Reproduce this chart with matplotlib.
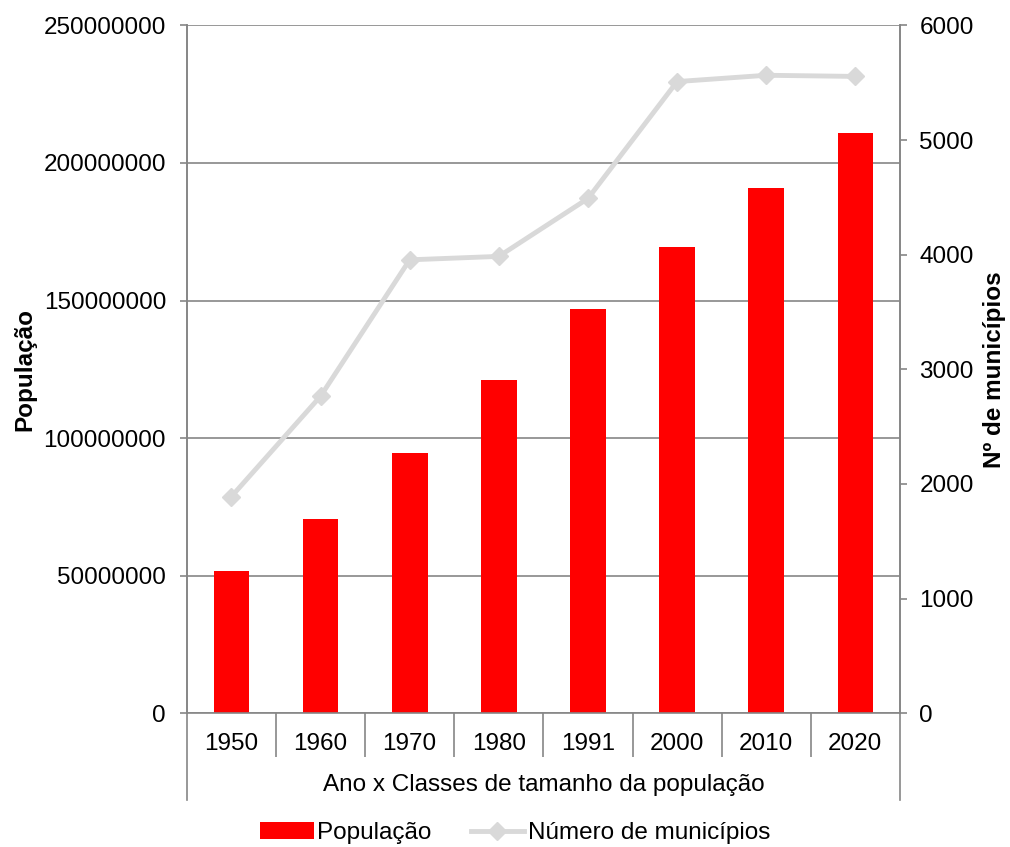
import matplotlib.pyplot as plt
from matplotlib.lines import Line2D

plt.rcParams['font.family'] = ['Liberation Sans', 'DejaVu Sans']

anos = ["1950", "1960", "1970", "1980", "1991", "2000", "2010", "2020"]
populacao = [51600000, 70500000, 94500000, 121000000, 146800000, 169300000, 190800000, 210800000]
municipios = [1890, 2765, 3955, 3985, 4490, 5510, 5565, 5555]

cinza = "#868686"
fs = 17.5

fig = plt.figure(figsize=(10.1, 8.47), dpi=100)
ax = fig.add_axes([0.185, 0.158, 0.706, 0.812])
ax2 = ax.twinx()

x = list(range(len(anos)))
ax.bar(x, populacao, width=0.4, color="#FF0000", zorder=2, label="População")
ax2.plot(x, municipios, color="#D9D9D9", lw=3.5, marker="D", ms=9,
         label="Número de municípios", zorder=3)

ax.set_xlim(-0.5, len(anos) - 0.5)
ax.set_ylim(0, 250000000)
ax.set_yticks(range(0, 250000001, 50000000))
ax.set_yticklabels([str(v) for v in range(0, 250000001, 50000000)])
ax2.set_ylim(0, 6000)
ax2.set_yticks(range(0, 6001, 1000))

ax.yaxis.grid(True, color=cinza, lw=1.2, zorder=0)
ax.set_axisbelow(True)

for a in (ax, ax2):
    for s in a.spines.values():
        s.set_color(cinza)
        s.set_linewidth(1.2)
    a.spines['top'].set_visible(False)
ax2.spines['bottom'].set_visible(False)

ax.tick_params(axis='y', direction='out', length=5, width=1.2, color=cinza,
               labelsize=fs, pad=10)
ax2.tick_params(axis='y', direction='out', length=5, width=1.2, color=cinza,
                labelsize=fs, pad=9)

# separadores das categorias
ax.set_xticks([i + 0.5 for i in range(len(anos) - 1)])
ax.set_xticklabels([])
ax.tick_params(axis='x', which='major', direction='out', length=32, width=1.2, color=cinza)
ax.set_xticks(x, minor=True)
ax.set_xticklabels(anos, minor=True)
ax.tick_params(axis='x', which='minor', length=0, labelsize=fs, pad=14)

ext = (800 - 713) / 688
for xx in (0, 1):
    ax.add_line(Line2D([xx, xx], [0, -ext], transform=ax.transAxes,
                       color=cinza, lw=1.2, clip_on=False))

ax.text(0.5, -(785 - 713) / 688, "Ano x Classes de tamanho da população",
        transform=ax.transAxes, ha='center', va='center', fontsize=fs)

ax.set_ylabel("População", fontsize=fs, fontweight='bold', labelpad=5)
ax2.set_ylabel("Nº de municípios", fontsize=fs, fontweight='bold', labelpad=7)

h1, l1 = ax.get_legend_handles_labels()
h2, l2 = ax2.get_legend_handles_labels()
fig.legend(h1 + h2, l1 + l2, loc='center', bbox_to_anchor=(0.51, 1 - 833 / 847),
           ncol=2, frameon=False, fontsize=fs, handlelength=2.2,
           handletextpad=0.15, columnspacing=1.6)

plt.savefig("out.png", dpi=100)
